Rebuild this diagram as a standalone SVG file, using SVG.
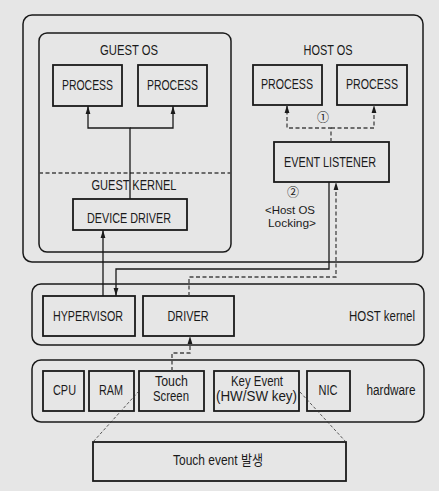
<svg xmlns="http://www.w3.org/2000/svg" width="439" height="491" viewBox="0 0 439 491">
<style>
text{font-family:"Liberation Sans",Arial,"Noto Sans CJK KR",sans-serif;font-size:14px;fill:#1a1a1a;text-anchor:middle}
.n{font-family:"Noto Sans CJK KR","DejaVu Sans",sans-serif;font-size:12px}
.s{font-size:11.5px}
.box{fill:#e6e6e6;stroke:#1a1a1a;stroke-width:1.8}
.cont{fill:#e6e6e6;stroke:#1a1a1a;stroke-width:1.5}
.c{fill:none;stroke:#1a1a1a;stroke-width:1.3}
.d{fill:none;stroke:#444;stroke-width:1.3;stroke-dasharray:4 2.5}
.t{fill:none;stroke:#333;stroke-width:0.8;stroke-dasharray:3 2}
</style>
<defs>
<marker id="ah" viewBox="0 0 8 6" refX="8" refY="3" markerWidth="8" markerHeight="6" markerUnits="userSpaceOnUse" orient="auto">
<path d="M0,0.6 L8,3 L0,5.4 z" fill="#1a1a1a"/>
</marker>
</defs>
<rect width="439" height="491" fill="#e6e6e6"/>
<g id="host-os-area">
<rect class="cont" x="23" y="15" width="400" height="247" rx="9"/>
<text x="328" y="55" textLength="49" lengthAdjust="spacingAndGlyphs">HOST OS</text>
</g>
<g id="guest-os">
<rect class="cont" x="39" y="33" width="192" height="219" rx="8"/>
<text x="129" y="55" textLength="58" lengthAdjust="spacingAndGlyphs">GUEST OS</text>
<line x1="39" y1="173" x2="231" y2="173" class="d" stroke="#666"/>
<text x="134" y="190" textLength="85" lengthAdjust="spacingAndGlyphs">GUEST KERNEL</text>
</g>
<g id="guest-process-1">
<rect class="box" x="53" y="65" width="69" height="41"/>
<text x="87.5" y="90" textLength="51" lengthAdjust="spacingAndGlyphs">PROCESS</text>
</g>
<g id="guest-process-2">
<rect class="box" x="138" y="65" width="69" height="41"/>
<text x="172.5" y="90" textLength="51" lengthAdjust="spacingAndGlyphs">PROCESS</text>
</g>
<g id="device-driver">
<rect class="box" x="73" y="199" width="114" height="31"/>
<text x="129" y="223" textLength="84" lengthAdjust="spacingAndGlyphs">DEVICE DRIVER</text>
</g>
<g id="host-process-1">
<rect class="box" x="253" y="65" width="69" height="40"/>
<text x="287" y="89" textLength="52" lengthAdjust="spacingAndGlyphs">PROCESS</text>
</g>
<g id="host-process-2">
<rect class="box" x="337" y="65" width="70" height="40"/>
<text x="372" y="89" textLength="52" lengthAdjust="spacingAndGlyphs">PROCESS</text>
</g>
<g id="event-listener">
<rect class="box" x="274" y="142" width="115" height="40"/>
<text x="330" y="167" textLength="92" lengthAdjust="spacingAndGlyphs">EVENT LISTENER</text>
</g>
<g id="labels">
<text class="n" x="323" y="122">①</text>
<text class="n" x="293" y="197">②</text>
<text class="s" x="290" y="214" textLength="50" lengthAdjust="spacingAndGlyphs">&lt;Host OS</text>
<text class="s" x="292" y="227" textLength="48" lengthAdjust="spacingAndGlyphs">Locking&gt;</text>
</g>
<g id="host-kernel">
<rect class="cont" x="32" y="284" width="392" height="61" rx="9"/>
<text x="382" y="321" textLength="66" lengthAdjust="spacingAndGlyphs">HOST kernel</text>
</g>
<g id="hypervisor">
<rect class="box" x="43" y="296" width="92" height="40"/>
<text x="88" y="321" textLength="70" lengthAdjust="spacingAndGlyphs">HYPERVISOR</text>
</g>
<g id="driver">
<rect class="box" x="143" y="296" width="91" height="40"/>
<text x="188" y="321" textLength="41" lengthAdjust="spacingAndGlyphs">DRIVER</text>
</g>
<g id="hardware">
<rect class="cont" x="32" y="360" width="392" height="62" rx="9"/>
<text x="391" y="395" textLength="49" lengthAdjust="spacingAndGlyphs">hardware</text>
</g>
<g id="cpu">
<rect class="box" x="43" y="371" width="41" height="40"/>
<text x="64.5" y="395" textLength="23" lengthAdjust="spacingAndGlyphs">CPU</text>
</g>
<g id="ram">
<rect class="box" x="89" y="371" width="45" height="40"/>
<text x="111" y="395" textLength="24" lengthAdjust="spacingAndGlyphs">RAM</text>
</g>
<g id="touch-screen">
<rect class="box" x="139" y="371" width="65" height="40"/>
<text x="171.5" y="386" textLength="33" lengthAdjust="spacingAndGlyphs">Touch</text>
<text x="171" y="401" textLength="36" lengthAdjust="spacingAndGlyphs">Screen</text>
</g>
<g id="key-event">
<rect class="box" x="214" y="371" width="85" height="40"/>
<text x="257" y="386" textLength="52" lengthAdjust="spacingAndGlyphs">Key Event</text>
<text x="256.5" y="401" textLength="81" lengthAdjust="spacingAndGlyphs">(HW/SW key)</text>
</g>
<g id="nic">
<rect class="box" x="307" y="371" width="43" height="40"/>
<text x="328" y="395" textLength="19" lengthAdjust="spacingAndGlyphs">NIC</text>
</g>
<g id="touch-event">
<rect class="box" x="93" y="442" width="253" height="39"/>
<text x="218" y="465" textLength="90" lengthAdjust="spacingAndGlyphs">Touch event 발생</text>
</g>
<g id="connectors">
<path class="c" d="M130,199 V128 H88 V106" marker-end="url(#ah)"/>
<path class="c" d="M130,128 H173 V106" marker-end="url(#ah)"/>
<path class="d" d="M331,142 V128 H287 V105" marker-end="url(#ah)"/>
<path class="d" d="M331,128 H374 V105" marker-end="url(#ah)"/>
<path class="c" d="M329,182 V269 H116 V296" marker-end="url(#ah)"/>
<path class="c" d="M103,296 V230" marker-end="url(#ah)"/>
<path class="d" d="M172,371 V353 H190 V336" marker-end="url(#ah)"/>
<path class="d" d="M189,296 V277 H336 V182" marker-end="url(#ah)"/>
<path class="t" d="M139,391 L93,442"/>
<path class="t" d="M300,392 L346,442"/>
</g>
</svg>
